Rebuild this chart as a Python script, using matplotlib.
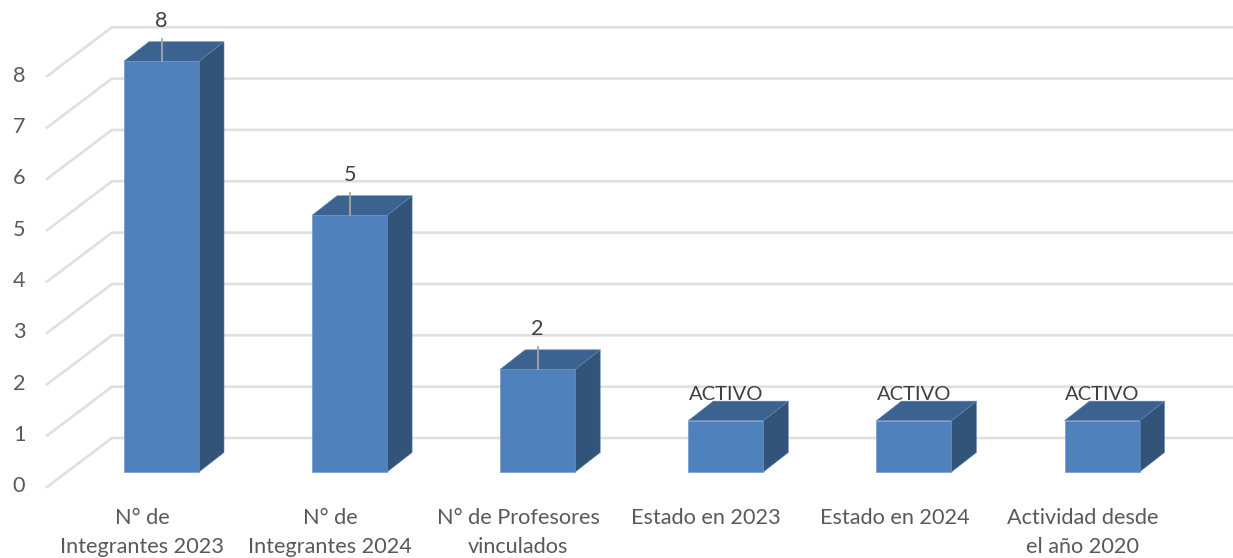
import matplotlib
matplotlib.use('Agg')
import matplotlib.pyplot as plt
from matplotlib.patches import Polygon

categories = ['N° de\nIntegrantes 2023', 'N° de\nIntegrantes 2024', 'N° de Profesores\nvinculados',
              'Estado en 2023', 'Estado en 2024', 'Actividad desde\nel año 2020']
values = [8, 5, 2, 1, 1, 1]
bar_labels = ['8', '5', '2', 'ACTIVO', 'ACTIVO', 'ACTIVO']
y_ticks = [0, 1, 2, 3, 4, 5, 6, 7, 8]

W, H = 1233, 558
plt.rcParams['font.family'] = ['Lato', 'DejaVu Sans']

fig = plt.figure(figsize=(W / 100, H / 100), dpi=100)
ax = fig.add_axes([0, 0, 1, 1])

# one category = 188.1 px, one unit = 51.35 px, first bar centre at 161.5 px, zero at 472 px
sx, sy = 188.1, 51.35
ax.set_xlim(-161.5 / sx, (W - 161.5) / sx)
ax.set_ylim((472 - H) / sy, 472 / sy)
ax.axis('off')

bar_w = 75 / sx
dep_x, dep_y = 25 / sx, 19.5 / sy

# walls: diagonals on the left and lines along the back
wall_x0, wall_y0 = -49.5 / sx, 34 / sy
floor_x0, floor_y0 = -114.5 / sx, -15 / sy
for v in y_ticks:
    ax.plot([floor_x0, wall_x0, ax.get_xlim()[1]], [floor_y0 + v, wall_y0 + v, wall_y0 + v],
            color='#e0e0e0', lw=1.9, solid_joinstyle='miter', zorder=1)
    ax.text(-142.5 / sx, floor_y0 + v + 0.5 / sy, str(v), ha='center', va='center',
            fontsize=15.6, color='#595959')

for i, v in enumerate(values):
    l, r = i - bar_w / 2, i + bar_w / 2
    front = [(l, 0), (r, 0), (r, v), (l, v)]
    top = [(l, v), (r, v), (r + dep_x, v + dep_y), (l + dep_x, v + dep_y)]
    side = [(r, 0), (r + dep_x, dep_y), (r + dep_x, v + dep_y), (r, v)]
    ax.add_patch(Polygon(side, fc='#325479', ec='#5f85b3', lw=0.4, zorder=2))
    ax.add_patch(Polygon(top, fc='#3c6390', ec='#5f85b3', lw=0.4, zorder=2))
    ax.add_patch(Polygon(front, fc='#4f81bd', ec='#5f8dc4', lw=0.4, zorder=3))

    if bar_labels[i] == 'ACTIVO':
        ax.text(i, v + 26 / sy, bar_labels[i], ha='center', va='center',
                fontsize=14.5, color='#404040', zorder=4)
    else:
        ax.plot([i, i], [v, v + 22 / sy], color='#a6a6a6', lw=1.3, zorder=4)
        ax.text(i, v + 40 / sy, bar_labels[i], ha='center', va='center',
                fontsize=15.6, color='#404040', zorder=4)

    ax.text(i - 19.5 / sx, -36 / sy, categories[i], ha='center', va='top',
            fontsize=15.6, color='#595959', linespacing=1.56)

fig.savefig('out.png', dpi=100)
